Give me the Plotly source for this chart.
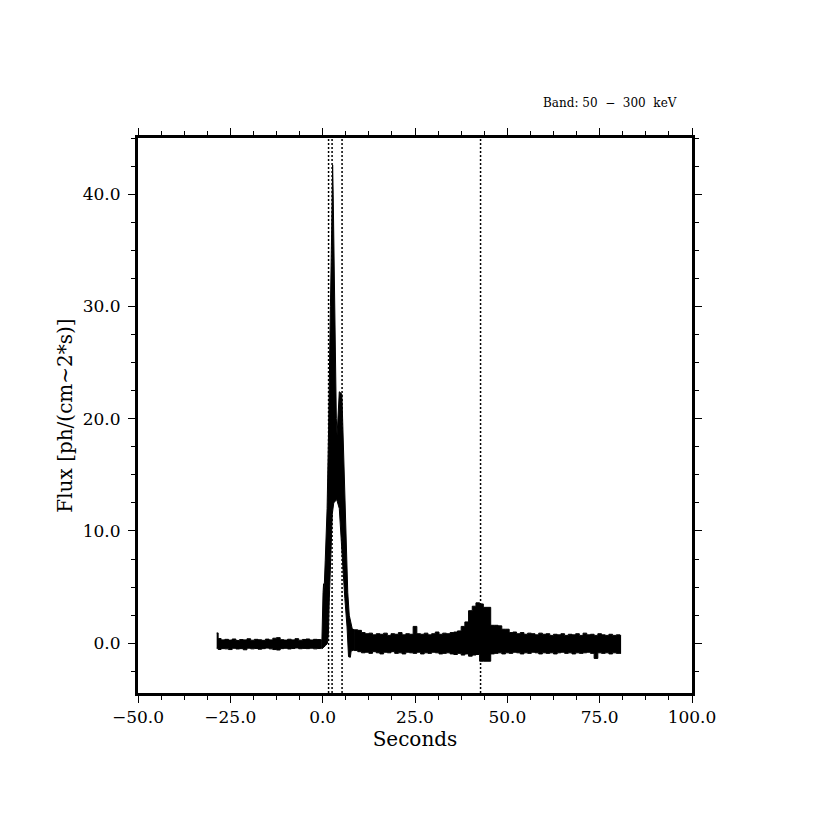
import plotly.graph_objects as go

# Light curve (seconds vs flux), kept as upper / lower edges of the noisy band
# Pre-burst background
t_pre = [-28.7, -28.3, -27.5, -26.5, -25.5, -24.5, -23.5, -22.5, -21.5, -20.5, -19.5, -18.5,
         -17.5, -16.5, -15.5, -14.5, -13.5, -12.5, -11.5, -10.5, -9.5, -8.5, -7.5, -6.5,
         -5.5, -4.5, -3.5, -2.5, -1.5, -0.5, -0.2]
hi_pre = [0.92, 0.42, 0.30, 0.35, 0.28, 0.38, 0.25, 0.33, 0.30, 0.40, 0.27, 0.35,
          0.31, 0.26, 0.37, 0.30, 0.45, 0.50, 0.32, 0.28, 0.36, 0.30, 0.41, 0.27,
          0.34, 0.38, 0.29, 0.35, 0.33, 0.30, 0.35]
lo_pre = [-0.45, -0.55, -0.48, -0.50, -0.56, -0.45, -0.51, -0.48, -0.58, -0.44, -0.50, -0.47,
          -0.53, -0.48, -0.43, -0.50, -0.56, -0.60, -0.48, -0.45, -0.51, -0.47, -0.42, -0.49,
          -0.46, -0.48, -0.44, -0.50, -0.47, -0.43, -0.48]

# Main burst: outer edge on top, inner edge underneath
t_burst_hi = [-0.2, -0.15, 0.1, 0.25, 0.4, 0.7, 1.2, 1.6, 1.8, 2.1, 2.4, 2.6, 2.7, 2.85,
              3.05, 3.25, 3.45, 3.7, 3.9, 4.2, 4.5, 5.2, 5.5, 5.8, 6.15, 6.5, 6.8, 7.2,
              7.6, 8.0, 8.5]
f_burst_hi = [0.35, 2.0, 4.5, 5.3, 4.8, 7.4, 12.0, 19.0, 25.0, 30.0, 36.0, 41.0, 42.6, 40.0,
              34.0, 29.0, 25.0, 20.0, 18.5, 20.5, 22.4, 22.2, 19.0, 15.0, 10.0, 6.5, 4.5, 2.5,
              1.8, 1.3, 1.2]
t_burst_lo = [-0.2, 0.3, 0.8, 1.3, 1.55, 1.75, 2.1, 2.6, 3.0, 3.8, 4.5, 5.3, 6.0, 6.6,
              6.85, 7.0, 7.5, 7.7, 8.5]
f_burst_lo = [-0.5, -0.35, -0.2, 0.0, 0.8, 3.5, 7.4, 11.5, 12.5, 12.8, 12.0, 7.4, 4.0, 1.45,
              0.0, -1.2, -1.25, -0.7, -0.6]

# Post-burst background with the bump near 40 s
t_post = [8.5, 9.5, 10.5, 11.5, 12.5, 13.5, 14.5, 15.5, 16.5, 17.5, 18.5, 19.5, 20.5, 21.5,
          22.5, 23.5, 24.5, 25.5, 26.5, 27.5, 28.5, 29.5, 30.5, 31.5, 32.5, 33.5, 34.5, 35.5,
          36.5, 37.5, 38.5, 39.5, 40.5, 41.5, 42.5, 43.5, 44.5, 45.5, 46.5, 47.5, 48.5, 49.5,
          50.5, 51.5, 52.5, 53.5, 54.5, 55.5, 56.5, 57.5, 58.5, 59.5, 60.5, 61.5, 62.5, 63.5,
          64.5, 65.5, 66.5, 67.5, 68.5, 69.5, 70.5, 71.5, 72.5, 73.5, 74.5, 75.5, 76.5, 77.5,
          78.5, 79.5, 80.5, 80.8]
hi_post = [1.2, 1.15, 0.95, 0.85, 0.9, 0.75, 0.85, 0.8, 0.9, 0.7, 0.85, 0.8, 0.95, 0.75,
           0.85, 0.8, 1.5, 0.85, 0.8, 0.9, 0.75, 0.85, 1.0, 0.8, 0.9, 0.85, 0.95, 1.0,
           1.1, 1.5, 1.9, 2.9, 3.3, 3.6, 3.5, 3.2, 3.2, 1.6, 1.6, 1.55, 1.25, 1.25,
           0.95, 1.0, 0.85, 0.95, 0.8, 0.9, 0.85, 0.75, 0.9, 0.8, 0.85, 0.7, 0.8, 0.75,
           0.85, 0.7, 0.8, 0.75, 0.85, 0.7, 0.9, 0.75, 0.8, 0.7, 0.85, 0.75, 0.7, 0.8,
           0.7, 0.75, 0.7, 0.7]
lo_post = [-0.65, -0.75, -0.85, -0.8, -0.9, -0.75, -0.85, -0.95, -0.8, -0.85, -0.75, -0.9, -0.85, -0.95,
           -0.8, -0.85, -0.9, -0.8, -0.95, -0.85, -0.9, -0.8, -0.85, -0.95, -0.9, -0.85, -0.95, -1.0,
           -0.9, -1.05, -0.95, -1.15, -1.05, -1.0, -1.6, -1.6, -1.6, -0.95, -0.9, -0.85, -0.95, -0.85,
           -0.9, -0.8, -0.85, -0.95, -0.85, -0.9, -0.8, -0.85, -0.95, -0.85, -0.9, -0.85, -0.95, -0.85,
           -0.8, -0.9, -0.85, -0.95, -0.85, -0.9, -0.85, -0.8, -0.9, -1.35, -0.85, -0.9, -0.85, -0.95,
           -0.85, -0.9, -0.9, -0.9]

# Dotted interval markers
marker_times = [1.6, 2.55, 5.25, 42.75]

FONT = "DejaVu Serif"

fig = go.Figure()

# Background segments drawn as filled bands between lower and upper edges
for t, lo, hi in [(t_pre, lo_pre, hi_pre), (t_post, lo_post, hi_post)]:
    fig.add_trace(go.Scatter(x=t, y=lo, mode='lines', line=dict(color='black', width=1, shape='hv'),
                             hoverinfo='skip', showlegend=False))
    fig.add_trace(go.Scatter(x=t, y=hi, mode='lines', line=dict(color='black', width=1, shape='hv'),
                             fill='tonexty', fillcolor='black', hoverinfo='skip', showlegend=False))

# Burst outline as one closed shape
fig.add_trace(go.Scatter(
    x=t_burst_hi + t_burst_lo[::-1],
    y=f_burst_hi + f_burst_lo[::-1],
    mode='lines', fill='toself', fillcolor='black',
    line=dict(color='black', width=1),
    hoverinfo='skip', showlegend=False,
))

for t in marker_times:
    fig.add_shape(type='line', xref='x', yref='paper', x0=t, x1=t, y0=0, y1=1,
                  line=dict(color='black', width=1.5, dash='2px,2px'))

axis_style = dict(
    showline=True, linewidth=3, linecolor='black', mirror='allticks',
    ticks='outside', ticklen=7, tickwidth=1, tickcolor='black',
    showgrid=False, zeroline=False, tickformat='.1f',
    tickfont=dict(family=FONT, size=17, color='black'),
)

fig.update_layout(
    width=830, height=830, autosize=False,
    # page body adds 8px, so left/top margins are trimmed by that much
    margin=dict(l=130, r=146, t=130, b=145),
    paper_bgcolor='white', plot_bgcolor='white',
    font=dict(family=FONT, color='black'),
    xaxis=dict(range=[-50, 100], dtick=25,
               minor=dict(dtick=6.25, ticks='outside', ticklen=4, tickwidth=1, tickcolor='black'),
               title=dict(text='Seconds', font=dict(family=FONT, size=20), standoff=6),
               **axis_style),
    yaxis=dict(range=[-4.43, 45.0], dtick=10, ticklabelstandoff=4,
               minor=dict(dtick=2.5, ticks='outside', ticklen=4, tickwidth=1, tickcolor='black'),
               title=dict(text='Flux [ph/(cm~2*s)]', font=dict(family=FONT, size=20), standoff=5),
               **axis_style),
    annotations=[dict(
        text='Band: 50\u00a0 \u2212\u00a0 300\u00a0 keV', xref='paper', yref='paper', x=0.9765, y=1.063,
        xanchor='right', yanchor='middle', showarrow=False,
        font=dict(family=FONT, size=12, color='black'),
    )],
)

fig.write_html("out.html")
